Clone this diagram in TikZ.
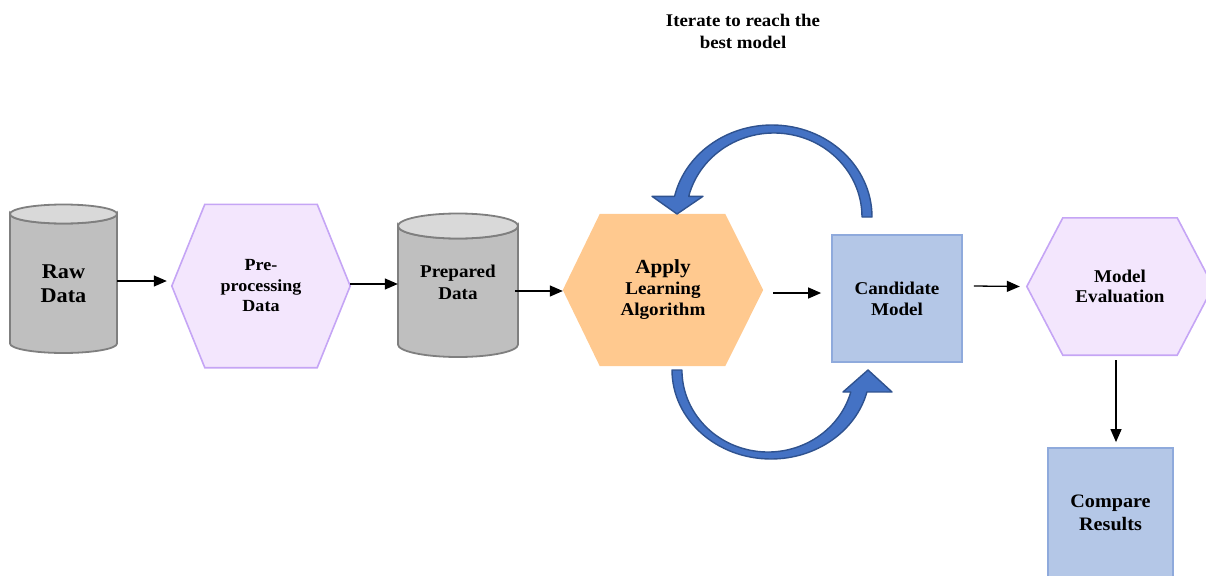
\documentclass[tikz,border=0pt]{standalone}
\usepackage{fontspec}
\setmainfont[FakeStretch=1.06]{Liberation Serif}
\usetikzlibrary{arrows.meta,backgrounds}
\definecolor{lav}{HTML}{F3E6FD}
\definecolor{lavd}{HTML}{C5A5F5}
\definecolor{orng}{HTML}{FFC98F}
\definecolor{bbox}{HTML}{B4C7E7}
\definecolor{bboxd}{HTML}{8FAADC}
\definecolor{cylbody}{HTML}{BFBFBF}
\definecolor{cyltop}{HTML}{D9D9D9}
\definecolor{cyld}{HTML}{7F7F7F}
\definecolor{carrow}{HTML}{4472C4}
\definecolor{carrowd}{HTML}{2F528F}
\tikzset{
  txt/.style={font=\bfseries, align=center, inner sep=0pt},
  arr/.style={-{Triangle[length=13pt,width=11pt]}, line width=1.3pt, black},
  hexfill/.style={fill=lav, draw=lavd, line width=1.6pt},
  cyl/.style={fill=cylbody, draw=cyld, line width=1.8pt},
  cyltopst/.style={fill=cyltop, draw=cyld, line width=1.8pt},
  bluebox/.style={fill=bbox, draw=bboxd, line width=1.8pt},
  curved/.style={fill=carrow, draw=carrowd, line width=1.4pt, line join=round},
}
\begin{document}
\begin{tikzpicture}[x=1pt,y=-1pt]
\useasboundingbox (0,0) rectangle (1206,575);
\clip (0,0) rectangle (1206,575);

% title
\node[txt, font=\bfseries\fontsize{17.8}{22}\selectfont] (title) at (743,31) {Iterate to reach the\\best model};

% Raw Data cylinder
\path[cyl] (10,214) -- (10,343.5) arc[start angle=180,end angle=0,x radius=53.5,y radius=9.5] -- (117,214) arc[start angle=0,end angle=180,x radius=53.5,y radius=9.5] -- cycle;
\path[cyltopst] (63.5,214) ellipse[x radius=53.5,y radius=9.5];
\node[txt, minimum width=107pt, minimum height=110pt, font=\bfseries\fontsize{21}{24}\selectfont] (raw) at (63.5,284) {Raw\\Data};

% Pre-processing hexagon
\node[txt, minimum width=178pt, minimum height=163pt, font=\bfseries\fontsize{17}{20.5}\selectfont] (pre) at (261,286) {Pre-\\processing\\Data};
\begin{scope}[on background layer]
\path[hexfill] (pre.west) -- ([xshift=33pt]pre.north west) -- ([xshift=-33pt]pre.north east) -- (pre.east) -- ([xshift=-33pt]pre.south east) -- ([xshift=33pt]pre.south west) -- cycle;
\end{scope}

% Prepared Data cylinder
\path[cyl] (398,226) -- (398,344.5) arc[start angle=180,end angle=0,x radius=60,y radius=12.5] -- (518,226) arc[start angle=0,end angle=180,x radius=60,y radius=12.5] -- cycle;
\path[cyltopst] (458,226) ellipse[x radius=60,y radius=12.5];
\node[txt, minimum width=120pt, minimum height=100pt, font=\bfseries\fontsize{18}{22}\selectfont] (prep) at (458,282) {Prepared\\Data};

% Apply Learning Algorithm hexagon
\node[txt, minimum width=200pt, minimum height=152pt, font=\bfseries\fontsize{18}{21}\selectfont] (apply) at (663,290) {{\fontsize{20}{21}\selectfont Apply}\\Learning\\Algorithm};
\begin{scope}[on background layer]
\path[fill=orng] (apply.west) -- ([xshift=37pt]apply.north west) -- ([xshift=-38pt]apply.north east) -- (apply.east) -- ([xshift=-38pt]apply.south east) -- ([xshift=37pt]apply.south west) -- cycle;
\end{scope}

% Candidate Model box
\node[txt, bluebox, minimum width=130pt, minimum height=127pt, font=\bfseries\fontsize{18}{21}\selectfont] (cand) at (897,298.5) {Candidate\\Model};

% Model Evaluation hexagon
\node[txt, minimum width=186pt, minimum height=137pt, font=\bfseries\fontsize{18}{20.5}\selectfont] (eval) at (1120,286.5) {Model\\Evaluation};
\begin{scope}[on background layer]
\path[hexfill] (eval.west) -- ([xshift=36pt]eval.north west) -- ([xshift=-36pt]eval.north east) -- (eval.east) -- ([xshift=-36pt]eval.south east) -- ([xshift=36pt]eval.south west) -- cycle;
\end{scope}

% Compare Results box
\node[txt, bluebox, minimum width=125pt, minimum height=130pt, font=\bfseries\fontsize{19}{23}\selectfont] (cmp) at (1110.5,513) {Compare\\Results};

% straight connectors
\draw[arr] ([yshift=3pt]raw.east) -- ([xshift=-5pt,yshift=5pt]pre.west);
\draw[arr] ([yshift=2pt]pre.east) -- ([yshift=-2pt]prep.west);
\draw[arr] ([xshift=-3pt,yshift=-9pt]prep.east) -- ([yshift=-1pt]apply.west);
\draw[arr] ([xshift=10pt,yshift=-3pt]apply.east) -- ([xshift=-10pt,yshift=5.5pt]cand.west);
\draw[arr] ([xshift=11pt,yshift=12.5pt]cand.east) -- ([xshift=-7pt]eval.west);
\draw[arr] ([xshift=-4pt,yshift=-5pt]eval.south) -- ([xshift=5.5pt,yshift=5pt]cmp.north);

% curved block arrows
\path[curved] (872,217) arc[start angle=0,end angle=-167,x radius=100,y radius=92]
  -- (652,196.3) -- (677,214) -- (703,196.3) -- (688.7,196.3)
  arc[start angle=-165.73,end angle=0,x radius=88,y radius=84] -- cycle;
\path[curved] (672,370) arc[start angle=180,end angle=14.3,x radius=99,y radius=89]
  -- (892,392) -- (868,370) -- (843,392) -- (850.8,392)
  arc[start angle=15.56,end angle=180,x radius=86,y radius=82] -- cycle;
\end{tikzpicture}
\end{document}
